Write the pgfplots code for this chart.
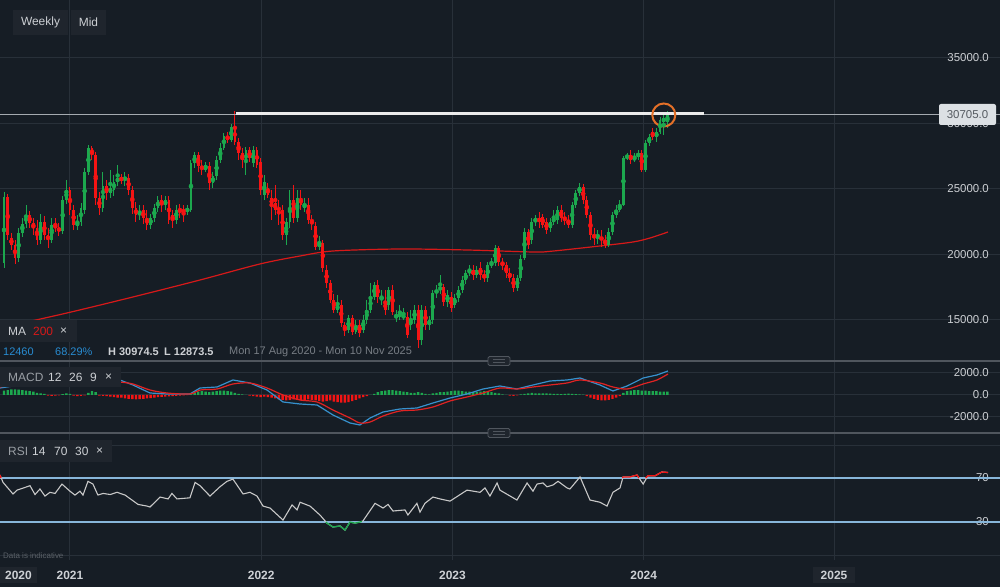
\documentclass[border=0pt]{standalone}
\usepackage{fontspec}
\setmainfont{Liberation Sans}
\usepackage{pgfplots}
\usepackage{pgfplotstable}
\pgfplotsset{compat=1.18}

\definecolor{bg}{RGB}{22,29,37}
\definecolor{cgrid}{RGB}{40,48,57}
\definecolor{cbox}{RGB}{31,37,45}
\definecolor{ctxt}{RGB}{205,208,212}
\definecolor{cdim}{RGB}{120,126,133}
\definecolor{cup}{RGB}{28,168,78}
\definecolor{cdn}{RGB}{245,20,20}
\definecolor{cma}{RGB}{215,25,25}
\definecolor{cmacd}{RGB}{55,145,205}
\definecolor{csig}{RGB}{225,35,35}
\definecolor{crsi}{RGB}{200,200,200}
\definecolor{clev}{RGB}{135,182,218}
\definecolor{cblue}{RGB}{40,140,210}
\definecolor{corange}{RGB}{228,112,40}
\definecolor{csep}{RGB}{80,86,94}

% weekly candles: n open high low close
\pgfplotstableread{
n o h l c
1 19351 24771 18969 24389
2 24389 24618 21106 21488
3 21259 21641 20343 20725
4 20725 21106 19275 19732
5 19732 22022 19427 21641
6 21641 22786 21335 22328
7 22328 23778 22022 23015
8 23015 23320 22022 22404
9 22404 22786 21488 22022
10 22022 22633 20725 21106
11 21106 23091 20801 22480
12 22480 22939 21106 21488
13 21488 22022 20496 21106
14 21106 22786 20877 22252
15 22252 22786 21717 22022
16 22022 22404 21412 21793
17 21793 24466 21564 24160
18 24160 25687 23855 24923
19 24923 25153 23015 23397
20 23397 23778 21870 22252
21 22175 23015 21870 22480
22 22480 23931 22175 23549
23 23397 26603 23091 26298
24 26298 28359 26069 28130
25 28130 28282 27214 27595
26 27595 27824 23778 24313
27 24313 24771 23015 23549
28 23549 26298 23244 25229
29 25229 25687 24160 24695
30 24695 26450 24313 25076
31 24923 26069 24466 25535
32 25535 26832 25229 25840
33 25840 26145 25382 25687
34 25687 26298 25229 25916
35 25840 26145 24542 24923
36 24923 25229 23091 23549
37 23549 24007 22480 23015
38 23015 23778 22633 23244
39 23397 23778 22328 22786
40 22786 23397 21870 22252
41 22252 23091 21946 22786
42 22786 23855 22480 23549
43 23549 24466 23244 24160
44 24160 24542 23244 23778
45 23778 24466 23397 24160
46 24160 24466 22328 22633
47 23015 23397 22022 22633
48 22633 23778 22328 23397
49 23549 23855 22786 23244
50 23397 23778 22480 23244
51 23244 23778 23015 23549
52 23397 27214 23244 26985
53 26985 27824 26603 27595
54 27595 27824 26298 26756
55 26756 27214 26069 26450
56 26450 27061 26298 26832
57 26756 27061 24923 25458
58 25458 26298 25076 25992
59 25992 27519 25687 27214
60 27214 28511 26985 28130
61 28130 29275 27977 29046
62 29046 29351 28511 28740
63 28740 29962 28588 29733
64 29733 30974 28359 28588
65 28588 28893 27214 27748
66 27748 28130 26603 27214
67 26985 28206 26069 27977
68 27977 28206 27061 27366
69 26985 28282 26679 27977
70 27977 28206 26603 26832
71 27061 27366 24542 24923
72 24542 26069 24160 25535
73 25076 25458 24313 24542
74 24313 24923 22633 23778
75 23931 25305 23015 23397
76 23549 24160 22252 23397
77 23397 23778 21106 21488
78 21488 22786 20725 22480
79 22480 24923 22022 24160
80 24160 25305 22404 22786
81 22786 24923 22480 24313
82 24313 24923 23397 23778
83 23549 24313 23244 23855
84 23778 24313 22328 22633
85 22633 23015 21870 22480
86 22175 22480 20343 20572
87 20572 21412 20343 20877
88 20877 21106 18664 18969
89 18816 19198 17442 17824
90 17824 18053 16297 16526
91 16526 16984 15534 15763
92 15763 16908 15534 16144
93 16144 16526 14465 14770
94 14617 14847 13778 14236
95 14236 15381 14007 15152
96 15152 15381 13854 14083
97 14083 14999 13930 14617
98 14617 14999 13701 14007
99 14236 15381 14007 14999
100 14999 16526 14694 15763
101 15763 17824 15534 16755
102 16755 17900 16526 17671
103 17671 18053 16297 16755
104 16526 17289 16144 16755
105 16373 17289 15381 15763
106 16144 17518 15763 17289
107 17289 17671 15381 15610
108 15152 15763 14847 15381
109 15228 16144 14999 15534
110 15228 15915 14999 15305
111 15228 15610 13625 13854
112 14617 15763 14236 14999
113 14999 16144 14694 15763
114 15763 16144 12873 13472
115 13472 16144 13091 15763
116 15763 16068 14236 14617
117 14617 15305 14236 14999
118 14999 17289 14694 17060
119 17060 17671 16679 17289
120 17289 18434 16984 17518
121 17518 17747 16068 16373
122 16373 17289 15992 16908
123 16755 17137 15610 15915
124 16144 16984 15915 16679
125 16679 17595 16373 17289
126 17289 18358 17060 18053
127 18053 18816 17747 18587
128 18587 19198 18358 18816
129 18816 19198 18053 18434
130 18434 19122 18205 18816
131 18969 19427 18053 18434
132 18434 18816 17900 18205
133 18205 19427 17900 19198
134 19198 19732 18969 19351
135 19351 20725 19122 20496
136 20496 20648 19122 19427
137 19427 19732 18816 19198
138 19198 19427 18205 18587
139 18587 18969 17900 18205
140 18205 18511 17137 17442
141 17442 18434 17213 18205
142 18205 19961 17976 19656
143 19732 22022 19580 21717
144 21717 21946 20419 20725
145 21106 22786 20801 22480
146 22480 23015 22175 22786
147 22786 23244 22022 22480
148 22862 23091 22022 22252
149 22480 22786 21564 21870
150 22022 22786 21717 22480
151 22480 23397 22252 22786
152 22633 23702 22328 23397
153 23397 23778 22480 22786
154 22786 23244 22252 22633
155 22633 23015 22022 22252
156 22252 24007 22022 23778
157 23778 24923 23549 24695
158 24695 25458 24466 25153
159 25153 25382 23855 24160
160 24160 24466 22786 23015
161 23015 23244 21106 21488
162 21488 22022 20725 21335
163 21335 21870 20801 21488
164 21335 21870 20572 21106
165 21106 21488 20496 20725
166 20725 22022 20572 21717
167 21717 23244 21488 23015
168 23015 23778 22786 23397
169 23397 24160 23244 23778
170 23778 27519 23702 27366
171 27366 27748 27214 27519
172 27595 27977 26908 27214
173 27214 27748 27061 27443
174 27443 27977 27214 27748
175 27748 27977 26298 26450
176 26450 28740 26298 28511
177 28511 29198 28282 28969
178 29351 29657 28740 28969
179 28969 29657 28588 29351
180 29351 30496 29198 30267
181 30115 30649 29122 30420
182 30115 30950 29657 30705
}\candles

% MACD histogram, one value per week
\pgfplotstableread[row sep=\\]{
n v\\ 1 400\\ 2 450\\ 3 500\\ 4 500\\ 5 480\\ 6 450\\ 7 400\\ 8 350\\ 9 300\\
10 200\\ 11 150\\ 12 100\\ 13 -50\\ 14 -80\\ 15 -60\\ 16 -30\\ 17 80\\ 18 150\\ 19 100\\
20 -50\\ 21 -100\\ 22 -80\\ 23 -40\\ 24 200\\ 25 350\\ 26 250\\ 27 -50\\ 28 -80\\ 29 -100\\
30 -150\\ 31 -200\\ 32 -250\\ 33 -250\\ 34 -300\\ 35 -350\\ 36 -380\\ 37 -400\\ 38 -380\\ 39 -350\\
40 -300\\ 41 -280\\ 42 -250\\ 43 -200\\ 44 -180\\ 45 -150\\ 46 -120\\ 47 -100\\ 48 -80\\ 49 -60\\
50 -40\\ 51 -20\\ 52 100\\ 53 200\\ 54 300\\ 55 350\\ 56 300\\ 57 250\\ 58 300\\ 59 350\\
60 400\\ 61 400\\ 62 350\\ 63 300\\ 64 200\\ 65 100\\ 66 50\\ 67 0\\ 68 -50\\ 69 -100\\
70 -150\\ 71 -200\\ 72 -150\\ 73 -200\\ 74 -250\\ 75 -300\\ 76 -400\\ 77 -450\\ 78 -500\\ 79 -450\\
80 -400\\ 81 -450\\ 82 -500\\ 83 -450\\ 84 -400\\ 85 -450\\ 86 -500\\ 87 -550\\ 88 -600\\ 89 -550\\
90 -500\\ 91 -600\\ 92 -650\\ 93 -700\\ 94 -700\\ 95 -650\\ 96 -550\\ 97 -450\\ 98 -300\\ 99 -200\\
100 -100\\ 101 0\\ 102 100\\ 103 250\\ 104 350\\ 105 400\\ 106 450\\ 107 450\\ 108 400\\ 109 350\\
110 300\\ 111 250\\ 112 200\\ 113 200\\ 114 250\\ 115 200\\ 116 100\\ 117 50\\ 118 150\\ 119 200\\
120 250\\ 121 250\\ 122 300\\ 123 350\\ 124 400\\ 125 400\\ 126 350\\ 127 300\\ 128 300\\ 129 250\\
130 250\\ 131 300\\ 132 350\\ 133 300\\ 134 250\\ 135 200\\ 136 150\\ 137 50\\ 138 0\\ 139 -50\\
140 -80\\ 141 -30\\ 142 50\\ 143 100\\ 144 150\\ 145 200\\ 146 150\\ 147 150\\ 148 150\\ 149 150\\
150 120\\ 151 100\\ 152 100\\ 153 80\\ 154 100\\ 155 120\\ 156 100\\ 157 80\\ 158 60\\ 159 30\\
160 -100\\ 161 -250\\ 162 -350\\ 163 -450\\ 164 -500\\ 165 -500\\ 166 -450\\ 167 -350\\ 168 -250\\ 169 -100\\
170 200\\ 171 350\\ 172 400\\ 173 450\\ 174 450\\ 175 400\\ 176 400\\ 177 350\\ 178 350\\ 179 350\\
180 300\\ 181 300\\ 182 300\\
}\hist

\pgfplotsset{
  panel/.style={
    scale only axis, width=1000bp, anchor=south west,
    xmin=2020.634, xmax=2025.863,
    axis line style={draw=none}, major tick length=0pt,
    xtick={2021,2022,2023,2024,2025},
    xmajorgrids, ymajorgrids,
    major grid style={cgrid, line width=1bp},
    yticklabel pos=right,
    yticklabel style={anchor=east, xshift=-11bp, inner sep=0pt,
      font=\fontsize{11.5}{13}\selectfont, text=ctxt},
  },
  stick/.style 2 args={only marks, mark=none, color=#1,
    error bars/y dir=both, error bars/y explicit, error bars/error mark=none,
    error bars/error bar style={color=#1, solid, line width=#2}},
}

\begin{document}
\begin{tikzpicture}
\fill[bg] (0,0) rectangle (1000bp,587bp);

% ---- price panel
\begin{axis}[panel, at={(0bp,227bp)}, height=360bp,
  ymin=11945, ymax=39428,
  xticklabels={},
  ytick={15000,20000,25000,30000,35000},
  yticklabels={15000.0,20000.0,25000.0,30000.0,35000.0}]
\addplot[cma, line width=1.2bp, smooth] coordinates {
  (2020.634,14389) (2020.984,15534) (2021.329,16755) (2021.680,18053)
  (2021.993,19275) (2022.203,19885) (2022.375,20267) (2022.725,20419)
  (2023.076,20343) (2023.421,20190) (2023.510,20240) (2023.771,20649)
  (2023.944,20954) (2024.033,21259) (2024.127,21717)};
\addplot[restrict expr to domain={\thisrow{c}-\thisrow{o}}{0:1e6}, stick={cup}{1bp}]
  table[x expr=2020.636+\thisrow{n}*0.019165,
        y expr=(\thisrow{h}+\thisrow{l})/2,
        y error expr=(\thisrow{h}-\thisrow{l})/2] {\candles};
\addplot[restrict expr to domain={\thisrow{o}-\thisrow{c}}{0.5:1e6}, stick={cdn}{1bp}]
  table[x expr=2020.636+\thisrow{n}*0.019165,
        y expr=(\thisrow{h}+\thisrow{l})/2,
        y error expr=(\thisrow{h}-\thisrow{l})/2] {\candles};
\addplot[restrict expr to domain={\thisrow{c}-\thisrow{o}}{0:1e6}, stick={cup}{2.8bp}]
  table[x expr=2020.636+\thisrow{n}*0.019165,
        y expr=(\thisrow{o}+\thisrow{c})/2,
        y error expr={max(abs(\thisrow{c}-\thisrow{o})/2,40)}] {\candles};
\addplot[restrict expr to domain={\thisrow{o}-\thisrow{c}}{0.5:1e6}, stick={cdn}{2.8bp}]
  table[x expr=2020.636+\thisrow{n}*0.019165,
        y expr=(\thisrow{o}+\thisrow{c})/2,
        y error expr={max(abs(\thisrow{c}-\thisrow{o})/2,40)}] {\candles};
% last price and the drawn resistance line
\addplot[color={rgb,255:red,165;green,170;blue,176}, line width=0.8bp] coordinates {(2020.634,30705) (2025.863,30705)};
\addplot[color={rgb,255:red,235;green,235;blue,235}, line width=2.4bp] coordinates {(2021.868,30760) (2024.315,30760)};
\draw[corange, line width=2bp] (axis cs:2024.105,30649) circle[radius=11.5bp];
\end{axis}

% ---- MACD panel
\begin{axis}[panel, at={(0bp,155bp)}, height=70bp,
  ymin=-3364, ymax=3000,
  xticklabels={},
  ytick={-2000,0,2000},
  yticklabels={-2000.0,0.0,2000.0}]
\addplot[ybar, bar width=2.4bp, bar shift=0pt, fill=cup, draw=none,
  restrict expr to domain={\thisrow{v}}{0:1e6}]
  table[x expr=2020.636+\thisrow{n}*0.019165, y=v] {\hist};
\addplot[ybar, bar width=2.4bp, bar shift=0pt, fill=cdn, draw=none,
  restrict expr to domain={\thisrow{v}}{-1e6:-0.5}]
  table[x expr=2020.636+\thisrow{n}*0.019165, y=v] {\hist};
\addplot[cmacd, line width=1.2bp] coordinates {
  (2020.634,636) (2020.807,1090) (2020.984,1273) (2021.157,1454) (2021.261,1364)
  (2021.329,909) (2021.418,182) (2021.507,91) (2021.627,91) (2021.680,636)
  (2021.769,727) (2021.852,1364) (2021.941,1091) (2022.030,455) (2022.114,-636)
  (2022.203,-818) (2022.292,-909) (2022.375,-1818) (2022.464,-2545) (2022.516,-2727)
  (2022.569,-2091) (2022.637,-1545) (2022.725,-1273) (2022.814,-1182) (2022.898,-727)
  (2022.987,-273) (2023.076,91) (2023.160,545) (2023.248,818) (2023.337,545)
  (2023.421,909) (2023.510,1273) (2023.599,1364) (2023.667,1545) (2023.771,909)
  (2023.839,364) (2023.913,818) (2023.997,1545) (2024.069,1818) (2024.127,2182)};
\addplot[csig, line width=1.2bp, smooth] coordinates {
  (2020.634,727) (2020.807,1182) (2020.984,1364) (2021.157,1364) (2021.261,1182)
  (2021.329,1000) (2021.418,455) (2021.507,182) (2021.627,91) (2021.680,455)
  (2021.769,545) (2021.852,1000) (2021.941,1091) (2022.030,636) (2022.114,0)
  (2022.203,-455) (2022.292,-636) (2022.375,-1364) (2022.464,-2091) (2022.516,-2545)
  (2022.569,-2455) (2022.637,-1909) (2022.725,-1455) (2022.814,-1364) (2022.898,-1091)
  (2022.987,-545) (2023.076,-182) (2023.160,182) (2023.248,636) (2023.337,545)
  (2023.421,727) (2023.510,909) (2023.599,1091) (2023.667,1364) (2023.771,1091)
  (2023.839,727) (2023.913,545) (2023.997,1000) (2024.069,1364) (2024.127,1909)};
\end{axis}

% ---- RSI panel
\begin{axis}[panel, at={(0bp,27bp)}, height=126bp,
  ymin=-4.5, ymax=110,
  xticklabels={2021,2022,2023,2024,{}},
  xticklabel style={font=\bfseries\fontsize{12}{14}\selectfont, text=ctxt, yshift=-8bp},
  ytick={30,70}, yticklabels={30,70}]
\addplot[cgrid, line width=1bp] coordinates {(2020.634,100) (2025.863,100)};
\addplot[cgrid, line width=1bp] coordinates {(2020.634,0) (2025.863,0)};
\addplot[clev, line width=1.3bp] coordinates {(2020.634,70) (2025.863,70)};
\addplot[clev, line width=1.3bp] coordinates {(2020.634,30) (2025.863,30)};
\addplot[crsi, line width=1.1bp] coordinates {
  (2020.634,72.7) (2020.650,66) (2020.702,55.5) (2020.723,59) (2020.791,63)
  (2020.817,55) (2020.843,60) (2020.869,53.6) (2020.895,57) (2020.922,56)
  (2020.958,64.5) (2021.000,58) (2021.026,54.5) (2021.052,58) (2021.068,54.5)
  (2021.094,67) (2021.120,64.5) (2021.146,54.5) (2021.173,56) (2021.210,55)
  (2021.246,57) (2021.288,54.5) (2021.356,46) (2021.403,44.5) (2021.418,43.6)
  (2021.471,52.7) (2021.513,51) (2021.533,56) (2021.559,51) (2021.627,52)
  (2021.654,66) (2021.680,63) (2021.732,53.6) (2021.784,62) (2021.821,67)
  (2021.852,69) (2021.905,55.5) (2021.941,57) (2021.978,53.6) (2022.009,44.5)
  (2022.046,42.7) (2022.114,31.8) (2022.161,45.5) (2022.187,41) (2022.203,48)
  (2022.255,44.5) (2022.307,36.4) (2022.344,29) (2022.375,25.5) (2022.412,26.4)
  (2022.438,22.7) (2022.464,30) (2022.490,29) (2022.516,30) (2022.532,31)
  (2022.595,47) (2022.637,42.7) (2022.663,46) (2022.689,40) (2022.752,41)
  (2022.767,36.4) (2022.814,47) (2022.830,39) (2022.856,47) (2022.898,52.7)
  (2022.935,51) (2022.987,49) (2023.076,59) (2023.144,57) (2023.170,61)
  (2023.196,53.6) (2023.233,65.5) (2023.248,59) (2023.337,50) (2023.390,65.5)
  (2023.421,58) (2023.442,64.5) (2023.473,65.5) (2023.494,62) (2023.525,63.6)
  (2023.552,67) (2023.599,61) (2023.614,60) (2023.667,71) (2023.719,50)
  (2023.771,48) (2023.808,44.5) (2023.839,57) (2023.876,61) (2023.892,71)
  (2023.928,71) (2023.965,72.7) (2023.997,64.5) (2024.022,72) (2024.059,72)
  (2024.095,75.5) (2024.127,75)};
\addplot[cdn, line width=1.3bp] coordinates {(2020.634,72.7) (2020.639,70)};
\addplot[cdn, line width=1.3bp] coordinates {(2023.889,70) (2023.892,71) (2023.928,71) (2023.965,72.7) (2023.975,70)};
\addplot[cdn, line width=1.3bp] coordinates {(2024.010,70) (2024.022,72) (2024.059,72) (2024.095,75.5) (2024.127,75)};
\addplot[cup, line width=1.3bp] coordinates {(2022.338,30) (2022.344,29) (2022.375,25.5) (2022.412,26.4) (2022.438,22.7) (2022.464,30) (2022.490,29) (2022.516,30) (2022.526,30.6)};
\end{axis}

% ---- panel separators and handles
\draw[csep, line width=1.5bp] (0,226bp) -- (1000bp,226bp);
\draw[csep, line width=1.5bp] (0,154bp) -- (1000bp,154bp);
\foreach \yy in {226,154} {
  \filldraw[fill=cbox, draw=csep, rounded corners=1.5bp, line width=0.8bp] (488bp,\yy bp-4.5bp) rectangle (510bp,\yy bp+4.5bp);
  \draw[csep, line width=0.6bp] (493bp,\yy bp-1.5bp) -- (505bp,\yy bp-1.5bp);
  \draw[csep, line width=0.6bp] (493bp,\yy bp+1.5bp) -- (505bp,\yy bp+1.5bp);
}

% ---- last price tag
\fill[color={rgb,255:red,220;green,224;blue,228}, rounded corners=2bp] (939bp,462bp) rectangle (996bp,483bp);
\node[text={rgb,255:red,85;green,90;blue,96}, font=\fontsize{11.5}{13}\selectfont] at (967.5bp,472.5bp) {30705.0};

% ---- header buttons
\fill[cbox] (13bp,552bp) rectangle (68bp,577bp);
\fill[cbox] (71bp,552bp) rectangle (106bp,577bp);
\node[text=ctxt, font=\fontsize{12}{14}\selectfont] at (40.5bp,564.5bp) {Weekly};
\node[text=ctxt, font=\fontsize{12}{14}\selectfont] at (88.5bp,564.5bp) {Mid};

% ---- MA legend and info line
\fill[cbox] (0,245bp) rectangle (77bp,267bp);
\begin{scope}[every node/.style={anchor=west, inner sep=0pt, font=\fontsize{12}{14}\selectfont}]
\node[text=ctxt] at (8bp,256bp) {MA};
\node[text=cma] at (33bp,256bp) {200};
\node[text=ctxt] at (60bp,256bp) {×};
\end{scope}
\begin{scope}[every node/.style={anchor=west, inner sep=0pt, font=\fontsize{11}{13}\selectfont}]
\node[text=cblue] at (3bp,235bp) {12460};
\node[text=cblue] at (55bp,235bp) {68.29\%};
\node[text=ctxt, font=\bfseries\fontsize{11}{13}\selectfont] at (108bp,235bp) {H 30974.5};
\node[text=ctxt, font=\bfseries\fontsize{11}{13}\selectfont] at (164bp,235bp) {L 12873.5};
\node[text=cdim] at (229bp,235bp) {Mon 17 Aug 2020 - Mon 10 Nov 2025};
\end{scope}

% ---- MACD and RSI legends
\fill[cbox] (0,200bp) rectangle (121bp,220bp);
\fill[cbox] (0,125bp) rectangle (112bp,147bp);
\begin{scope}[every node/.style={anchor=west, inner sep=0pt, font=\fontsize{12}{14}\selectfont}]
\node[text=cdim!60!ctxt] at (8bp,210bp) {MACD};
\node[text=ctxt] at (48bp,210bp) {12};
\node[text=ctxt] at (69bp,210bp) {26};
\node[text=ctxt] at (90bp,210bp) {9};
\node[text=ctxt] at (105bp,210bp) {×};
\node[text=cdim!60!ctxt] at (8bp,136bp) {RSI};
\node[text=ctxt] at (32bp,136bp) {14};
\node[text=ctxt] at (54bp,136bp) {70};
\node[text=ctxt] at (75bp,136bp) {30};
\node[text=ctxt] at (96bp,136bp) {×};
\end{scope}

% ---- footer
\node[anchor=west, inner sep=0pt, text=cdim!70!bg, font=\fontsize{8}{9}\selectfont] at (3bp,31bp) {Data is indicative};
\fill[cbox] (0,4bp) rectangle (37bp,20bp);
\fill[cbox] (813bp,4bp) rectangle (855bp,20bp);
\node[text=ctxt, font=\bfseries\fontsize{12}{14}\selectfont] at (18.5bp,12bp) {2020};
\node[text=ctxt, font=\bfseries\fontsize{12}{14}\selectfont] at (834bp,12bp) {2025};

\pgfresetboundingbox
\path[use as bounding box] (0,0) rectangle (1000bp,587bp);
\end{tikzpicture}
\end{document}
